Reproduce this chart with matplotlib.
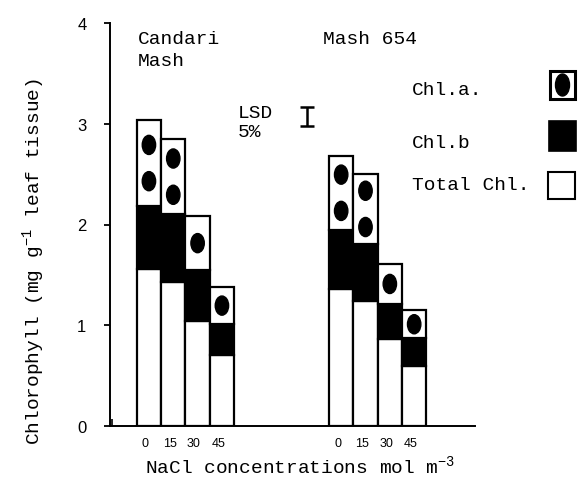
"""Chlorophyll content of two mash cultivars under NaCl stress (stacked bars)."""

import numpy as np
import matplotlib
matplotlib.use("Agg")
import matplotlib.pyplot as plt
from matplotlib.patches import Ellipse, Rectangle

W, H = 582, 481
MONO = "Liberation Mono"
plt.rcParams["mathtext.default"] = "regular"

nacl = ["0", "15", "30", "45"]

# segment tops (mg g-1 leaf tissue)
candari_total = [1.56, 1.43, 1.04, 0.70]
candari_chlb = [2.18, 2.10, 1.55, 1.01]
candari_chla = [3.04, 2.85, 2.08, 1.38]

mash654_total = [1.36, 1.24, 0.86, 0.60]
mash654_chlb = [1.95, 1.81, 1.21, 0.87]
mash654_chla = [2.68, 2.50, 1.61, 1.15]

lsd = 0.19


def px(x, y):
    return x / W, 1 - y / H


fig = plt.figure(figsize=(W / 100, H / 100), dpi=100)
ax = fig.add_axes([110 / W, 1 - 427 / H, 365 / W, 403 / H])
ax.set_xlim(0, 15)
ax.set_ylim(0, 4)

groups = [
    (1.6 + np.arange(4), candari_total, candari_chlb, candari_chla),
    (9.5 + np.arange(4), mash654_total, mash654_chlb, mash654_chla),
]

edges = [0.07]
centers = []
for xs, tot, chlb, chla in groups:
    tot, chlb, chla = map(np.asarray, (tot, chlb, chla))
    kw = dict(width=1.0, edgecolor="black", linewidth=1.6)
    ax.bar(xs, tot, color="white", **kw)
    ax.bar(xs, chlb - tot, bottom=tot, color="black", **kw)
    ax.bar(xs, chla - chlb, bottom=chlb, color="white", **kw)
    for x, lo, hi in zip(xs, chlb, chla):
        mid = (lo + hi) / 2
        ys = [mid - 0.18, mid + 0.18] if hi - lo > 0.6 else [mid]
        for y in ys:
            ax.add_patch(Ellipse((x, y), 0.55, 0.19, color="black"))
    edges += list(xs - 0.5) + [xs[-1] + 0.5]
    centers += list(xs - 0.15)

ax.spines[["top", "right"]].set_visible(False)
ax.spines[["left", "bottom"]].set_linewidth(1.4)

ax.set_yticks(range(5))
ax.tick_params(axis="y", direction="out", length=4, width=1.3, pad=13,
               labelsize=12)
for t in ax.get_yticklabels():
    t.set_family("Liberation Sans")

ax.set_xticks(edges)
ax.set_xticklabels([])
ax.tick_params(axis="x", which="major", direction="in", length=5, width=1.2)
ax.set_xticks(centers, nacl * 2, minor=True)
ax.tick_params(axis="x", which="minor", length=0, pad=8, labelsize=9)
for t in ax.get_xticklabels(minor=True):
    t.set_family("Liberation Sans")

# LSD bar
ax.errorbar(8.1, 3.07, yerr=lsd / 2, fmt="none", ecolor="black",
            elinewidth=1.8, capsize=5, capthick=1.8)

txt = dict(family=MONO, fontsize=14, va="baseline", ha="left")
fig.text(*px(138, 44), "Candari", **txt)
fig.text(*px(138, 66), "Mash", **txt)
fig.text(*px(323, 44), "Mash 654", **txt)
fig.text(*px(238, 118), "LSD", **txt)
fig.text(*px(238, 137), "5%", **txt)

# legend
fig.text(*px(412, 95), "Chl.a.", **txt)
fig.text(*px(412, 148), "Chl.b", **txt)
fig.text(*px(412, 190), "Total Chl.", **txt)


def fig_rect(x0, y0, x1, y1, **kw):
    r = Rectangle(px(x0, y1), (x1 - x0) / W, (y1 - y0) / H,
                  transform=fig.transFigure, **kw)
    fig.add_artist(r)


fig_rect(550, 72, 575, 100, facecolor="white", edgecolor="black", lw=2.2)
fig.add_artist(Ellipse(px(562.5, 86), 14 / W, 22 / H, color="black",
                       transform=fig.transFigure))
fig_rect(549, 122, 576, 152, facecolor="black", edgecolor="black", lw=1.2)
fig_rect(548, 173, 575, 200, facecolor="white", edgecolor="black", lw=1.5)

fig.text(*px(39, 445), "Chlorophyll (mg g$^{-1}$ leaf tissue)", rotation=90,
         rotation_mode="anchor", family=MONO, fontsize=14, ha="left",
         va="baseline")
fig.text(*px(145, 473), "NaCl concentrations mol m$^{-3}$", **txt)

fig.savefig("out.png", dpi=100)
